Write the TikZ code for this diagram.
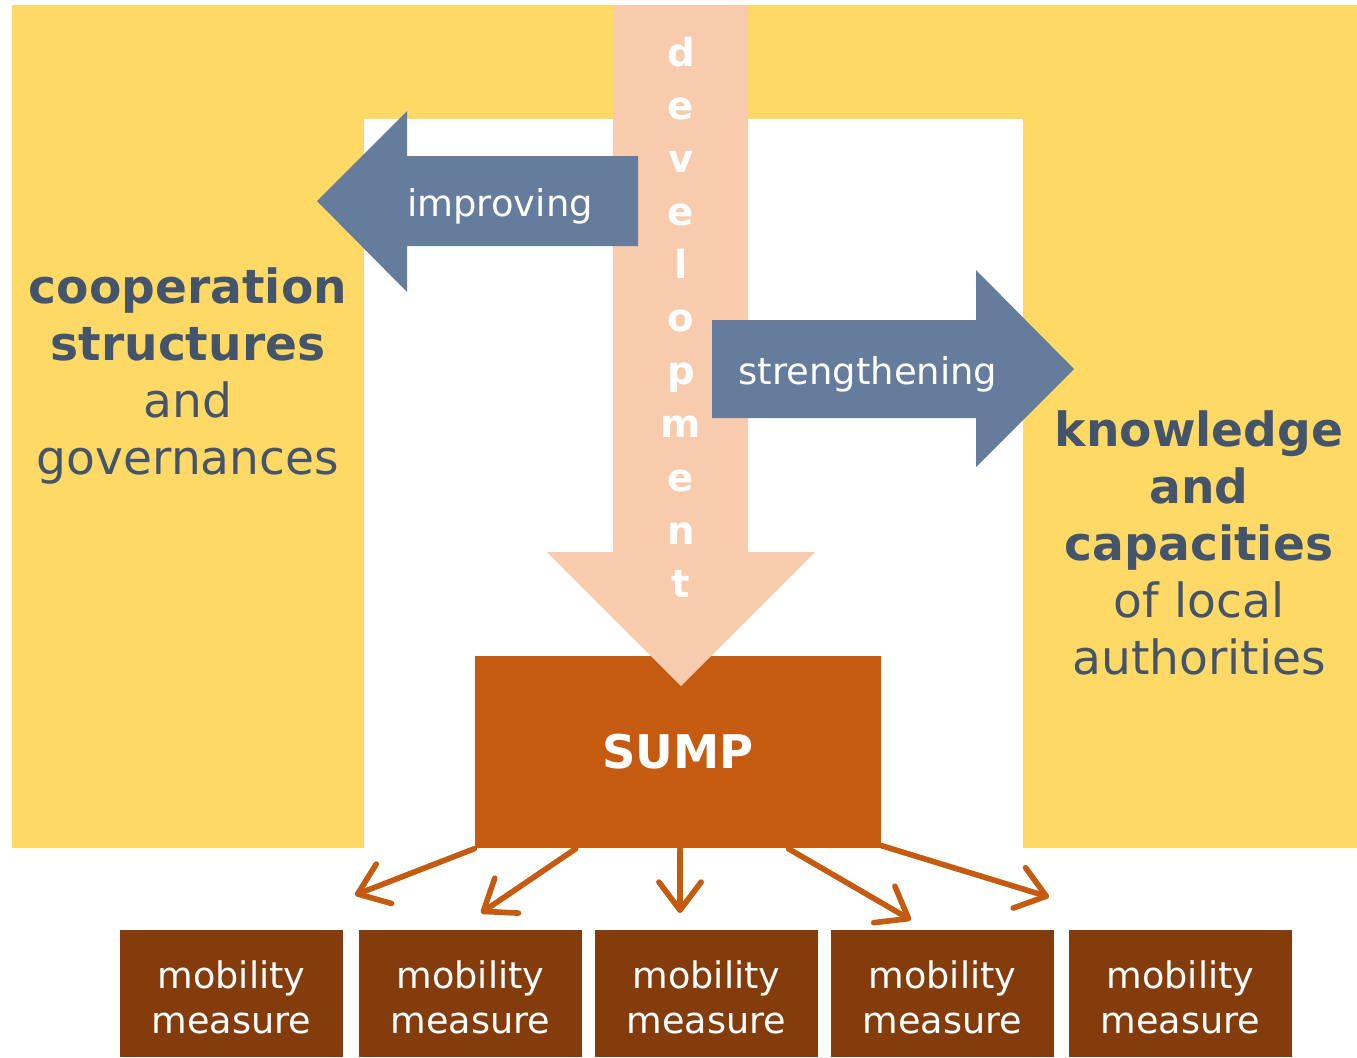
\documentclass[tikz,border=0pt]{standalone}
\usepackage{fontspec}
\setmainfont{DejaVu Sans}
\usetikzlibrary{arrows.meta,calc}
\definecolor{planyellow}{HTML}{FFD966}
\definecolor{devpeach}{HTML}{F8CBAD}
\definecolor{steelblue}{HTML}{657C9C}
\definecolor{slatetext}{HTML}{44546A}
\definecolor{sumporange}{HTML}{C55A11}
\definecolor{measurebrown}{HTML}{843C0C}
\tikzset{
  sidetext/.style={text=slatetext, align=center, font=\fontsize{13.4}{16.2}\selectfont},
  arrowtext/.style={text=white, font=\fontsize{10.5}{12.6}\selectfont},
  measurebox/.style={fill=measurebrown, minimum width=2.23cm, minimum height=1.27cm, inner sep=0pt},
  measuretext/.style={text=white, align=center, font=\fontsize{10.4}{12.8}\selectfont},
  sumpline/.style={draw=sumporange, line width=1.6pt, line cap=round,
    -{Straight Barb[length=8pt,width=12pt,round]}}
}
\begin{document}
\begin{tikzpicture}[x=0.01cm,y=-0.01cm]
      \useasboundingbox (0,0) rectangle (1357,1057);
      \fill[planyellow] (12,5) rectangle (1357,848);
      \fill[white] (364,119) rectangle (1023,848);
      \node[fill=sumporange, minimum width=4.06cm, minimum height=1.92cm, inner sep=0pt] (sump) at (678,752) {};
      \fill[devpeach] (613,5) -- (748,5) -- (748,552) -- (815,552) -- (681,686) -- (547,552) -- (613,552) -- cycle;
      \node[text=white, align=center, font=\bfseries\fontsize{11}{15.1}\selectfont] (dev) at (681,317)
        {d\\e\\v\\e\\l\\o\\p\\m\\e\\n\\t};
      \node[text=white, font=\bfseries\fontsize{13.2}{15}\selectfont] (sumptext) at (sump) {SUMP};
      \fill[steelblue] (638,156) -- (407,156) -- (407,111) -- (317,201) -- (407,292) -- (407,246) -- (638,246) -- cycle;
      \node[arrowtext] (improve) at (500,206) {improving};
      \fill[steelblue] (712,320) -- (976,320) -- (976,270) -- (1074,369) -- (976,467) -- (976,418) -- (712,418) -- cycle;
      \node[arrowtext] (strength) at (868,374) {strengthening};
      \node[sidetext] (coop) at (188,376) {\textbf{cooperation}\\\textbf{structures}\\and\\governances};
      \node[sidetext] (know) at (1199,543) {\textbf{knowledge}\\\textbf{and}\\\textbf{capacities}\\of local\\authorities};
      \foreach \i/\x in {1/231.5,2/470.5,3/706.5,4/942.5,5/1180.5} {
        \node[measurebox] (m\i) at (\x,993.5) {};
        \node[measuretext] (mt\i) at ($(m\i)+(0,4)$) {mobility\\measure};
      }
      \coordinate (t1) at (355,895);
      \coordinate (t2) at (481,913);
      \coordinate (t3) at (680,913);
      \coordinate (t4) at (911,920);
      \coordinate (t5) at (1049,897);
      \draw[sumpline] (sump.south west) -- (t1);
      \draw[sumpline] ($(sump.south west)!0.249!(sump.south east)$) -- (t2);
      \draw[sumpline] ($(sump.south west)!0.505!(sump.south east)$) -- (t3);
      \draw[sumpline] ($(sump.south west)!0.771!(sump.south east)$) -- (t4);
      \draw[sumpline] ($(sump.south east)+(0,-3)$) -- (t5);
    \end{tikzpicture}
\end{document}
